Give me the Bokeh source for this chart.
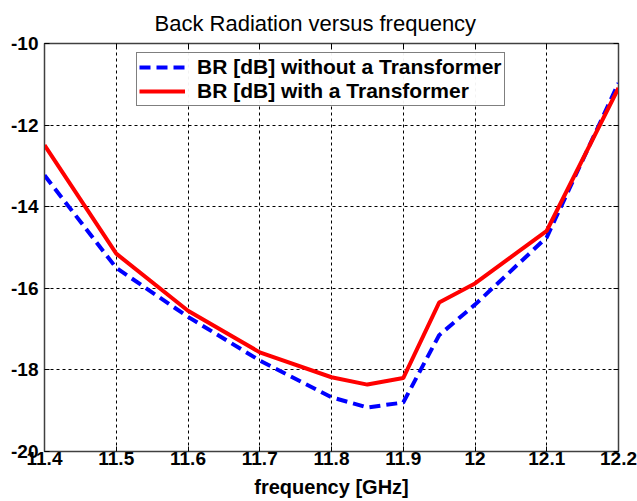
from bokeh.plotting import figure
from bokeh.models import LinearAxis, Title, Legend, LegendItem, FixedTicker, Range1d
from bokeh.embed import file_html
from bokeh.resources import INLINE

freq = [11.4, 11.5, 11.6, 11.7, 11.8, 11.85, 11.9, 11.95, 12.0, 12.1, 12.2]
br_without = [-13.23, -15.5, -16.7, -17.77, -18.67, -18.92, -18.8, -17.15, -16.4, -14.75, -10.97]
br_with = [-12.49, -15.15, -16.55, -17.57, -18.18, -18.36, -18.2, -16.35, -15.88, -14.59, -11.09]
x_ticks = [11.4, 11.5, 11.6, 11.7, 11.8, 11.9, 12.0, 12.1, 12.2]
x_tick_labels = ["11.4", "11.5", "11.6", "11.7", "11.8", "11.9", "12", "12.1", "12.2"]
y_ticks = [-20, -18, -16, -14, -12, -10]
y_tick_labels = ["-20", "-18", "-16", "-14", "-12", "-10"]

FONT = "Liberation Sans"

p = figure(width=637, height=501, output_backend="svg", toolbar_location=None,
           x_range=Range1d(11.4, 12.2), y_range=Range1d(-20, -10),
           min_border_left=44, min_border_right=19, min_border_top=43, min_border_bottom=50,
           x_axis_location=None, y_axis_location=None)
p.background_fill_color = "white"
p.border_fill_color = "white"
p.outline_line_color = "#404040"
p.outline_line_width = 1.5

xb = LinearAxis(ticker=FixedTicker(ticks=x_ticks))
xb.major_label_overrides = {t: l for t, l in zip(x_ticks, x_tick_labels)}
xb.axis_label = "frequency [GHz]"
yl = LinearAxis(ticker=FixedTicker(ticks=y_ticks))
yl.major_label_overrides = {t: l for t, l in zip(y_ticks, y_tick_labels)}
for ax in (xb, yl):
    ax.major_tick_in = 5
    ax.major_tick_out = 0
    ax.minor_tick_line_color = None
    ax.axis_line_color = "#404040"
    ax.major_tick_line_color = "black"
    ax.major_label_text_font = FONT
    ax.major_label_text_font_style = "bold"
    ax.major_label_text_font_size = "19px"
    ax.major_label_text_color = "black"
xb.major_label_standoff = 0
yl.major_label_standoff = 6
xb.axis_label_text_font = FONT
xb.axis_label_text_font_style = "bold"
xb.axis_label_text_font_size = "20px"
xb.axis_label_text_color = "black"
xb.axis_label_standoff = 8
p.add_layout(xb, "below")
p.add_layout(yl, "left")

xt = LinearAxis(ticker=FixedTicker(ticks=x_ticks), major_label_text_font_size="0px")
yr = LinearAxis(ticker=FixedTicker(ticks=y_ticks), major_label_text_font_size="0px")
for ax in (xt, yr):
    ax.major_tick_in = 5
    ax.major_tick_out = 0
    ax.minor_tick_line_color = None
    ax.axis_line_color = "#404040"
    ax.major_label_standoff = 0
p.add_layout(xt, "above")
p.add_layout(yr, "right")

p.xgrid.ticker = FixedTicker(ticks=x_ticks)
p.ygrid.ticker = FixedTicker(ticks=y_ticks)
for g in (p.xgrid, p.ygrid):
    g.grid_line_color = "black"
    g.grid_line_dash = "3 3"
    g.grid_line_width = 1

p.add_layout(Title(text="Back Radiation versus frequency", text_font=FONT,
                   text_font_size="22px", text_font_style="normal", text_color="black",
                   align="left", offset=110, standoff=15), "above")

r1 = p.line(freq, br_without, line_color="#0000ff", line_width=4, line_dash="11 6")
r2 = p.line(freq, br_with, line_color="#ff0000", line_width=4)

legend = Legend(items=[LegendItem(label="BR [dB] without a Transformer", renderers=[r1]),
                       LegendItem(label="BR [dB] with a Transformer", renderers=[r2])],
                location=(92, 345))
legend.label_text_font = FONT
legend.label_text_font_style = "bold"
legend.label_text_font_size = "21px"
legend.label_text_color = "black"
legend.border_line_color = "black"
legend.border_line_width = 1
legend.glyph_width = 46
legend.glyph_height = 20
legend.label_height = 20
legend.spacing = 0
legend.padding = 2
legend.margin = 0
legend.label_standoff = 12
p.add_layout(legend, "center")

open("out.html", "w").write(file_html(p, INLINE))
